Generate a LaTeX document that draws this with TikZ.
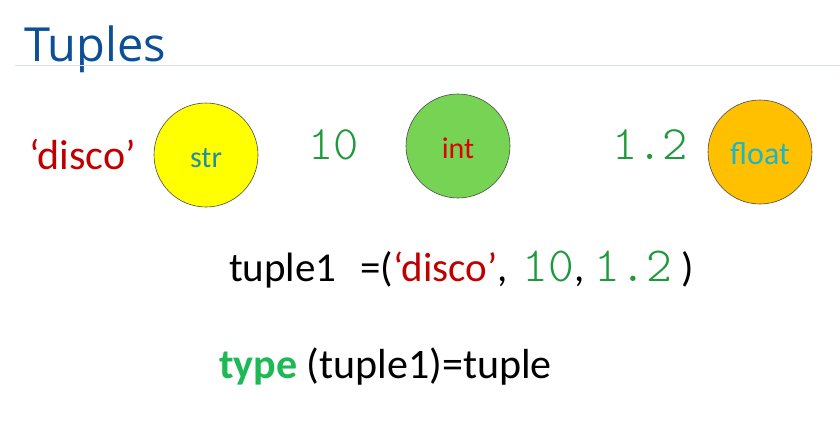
\documentclass[tikz,border=0pt]{standalone}
\usepackage{fontspec}
\setmainfont{Carlito}
\newfontfamily\monofam{Latin Modern Mono Light}
\newfontfamily\titlefam{Open Sans}
\definecolor{titleblue}{HTML}{0B4F96}
\definecolor{ruleblue}{HTML}{D9E0EE}
\definecolor{strred}{HTML}{C00000}
\definecolor{numgreen}{HTML}{1E9A3C}
\definecolor{kwgreen}{HTML}{1DB954}
\definecolor{yellowfill}{HTML}{FFFF00}
\definecolor{greenfill}{HTML}{77D353}
\definecolor{orangefill}{HTML}{FFC000}
\definecolor{tealtext}{HTML}{1F8FA8}
\definecolor{cyantext}{HTML}{1EB4CC}
\definecolor{inttext}{HTML}{E00000}
\newcommand\monofig[1]{{\monofam\fontsize{49}{52}\selectfont\textcolor{numgreen}{#1}}}
\begin{document}
\begin{tikzpicture}[x=1pt,y=-1pt,
  typeball/.style={circle,draw=black!70,line width=0.6pt,minimum size=104pt,inner sep=0pt},
  label/.style={inner sep=0pt,anchor=base west},
  strval/.style={font=\fontsize{42}{46}\selectfont,text=strred},
  numval/.style={font=\monofam\fontsize{48}{52}\selectfont,text=numgreen},
  codeline/.style={inner sep=0pt,anchor=base west}]
\useasboundingbox (0,0) rectangle (840,423);
\fill[white] (0,0) rectangle (840,423);

% title and rule
\node[label,font=\titlefam\fontsize{47}{50}\selectfont,text=titleblue] (title) at (24,61) {Tuples};
\draw[ruleblue,line width=1.2pt] (15,65.5) -- (840,65.5);

% values and their types
\node[label,strval] (disco) at (29,169) {‘disco’};
\node[typeball,fill=yellowfill] (str) at (206,155) {};
\node[font=\fontsize{30}{34}\selectfont,text=tealtext] (strlbl) at (206,158) {str};

\node[label,numval] (ten) at (308,159) {10};
\node[typeball,fill=greenfill] (int) at (458,146) {};
\node[font=\fontsize{30}{34}\selectfont,text=inttext] (intlbl) at (458,148) {int};

\node[label,numval] (onetwo) at (612,159) {1.2};
\node[typeball,fill=orangefill] (float) at (760,152) {};
\node[font=\fontsize{32}{36}\selectfont,text=cyantext] (floatlbl) at (760,154) {float};

% tuple assignment
\node[codeline,font=\fontsize{41}{44}\selectfont] (assign) at (229,281) {tuple1\hspace{24pt}=(\textcolor{strred}{‘disco’},\hspace{15pt}\monofig{10},\hspace{10pt}\monofig{1.2}\hspace{10pt})};

% type query
\node[codeline,font=\fontsize{42}{46}\selectfont] (typeq) at (219,378) {\textcolor{kwgreen}{\bfseries type} (tuple1)=tuple};
\end{tikzpicture}
\end{document}
